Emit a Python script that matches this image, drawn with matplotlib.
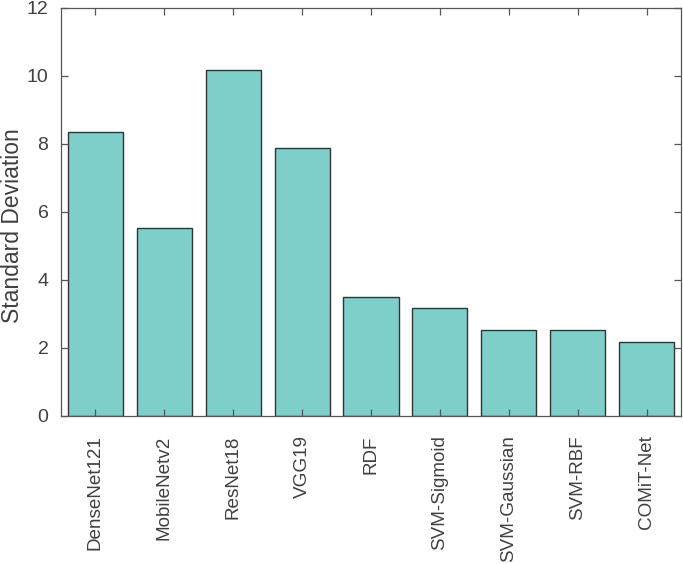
import matplotlib.pyplot as plt
import numpy as np

models = ['DenseNet121', 'MobileNetv2', 'ResNet18', 'VGG19', 'RDF',
          'SVM-Sigmoid', 'SVM-Gaussian', 'SVM-RBF', 'COMiT-Net']
std_dev = [8.34, 5.53, 10.16, 7.86, 3.51, 3.17, 2.53, 2.53, 2.18]

plt.rcParams['font.family'] = ['Liberation Sans', 'DejaVu Sans']
plt.rcParams['font.size'] = 14

axis_color = '#404040'

fig = plt.figure(figsize=(6.83, 5.64), dpi=100)
ax = fig.add_axes([61 / 683, 1 - 416 / 564, 620 / 683, 408.5 / 564])

x = np.arange(1, len(models) + 1)
ax.bar(x, std_dev, width=0.8, color='#7ECECA', edgecolor='#333333', linewidth=1.0)

ax.set_xlim(0.5, len(models) + 0.5)
ax.set_ylim(0, 12)
ax.set_yticks(range(0, 13, 2))
ax.set_xticks(x)
ax.set_xticklabels(models, rotation=90, fontsize=13.6)
ax.set_ylabel('Standard Deviation', color=axis_color, fontsize=16.5)
ax.yaxis.set_label_coords(-0.059, 0.465)

for s in ax.spines.values():
    s.set_color('#555555')
    s.set_linewidth(0.9)
ax.tick_params(direction='in', top=True, right=True, length=5, width=0.9,
               colors='#555555', labelsize=14)
ax.tick_params(axis='x', pad=14, labelsize=13.6)
ax.tick_params(axis='y', pad=9)
for lbl in ax.get_xticklabels() + ax.get_yticklabels():
    lbl.set_color(axis_color)

fig.savefig('out.png', dpi=100)
